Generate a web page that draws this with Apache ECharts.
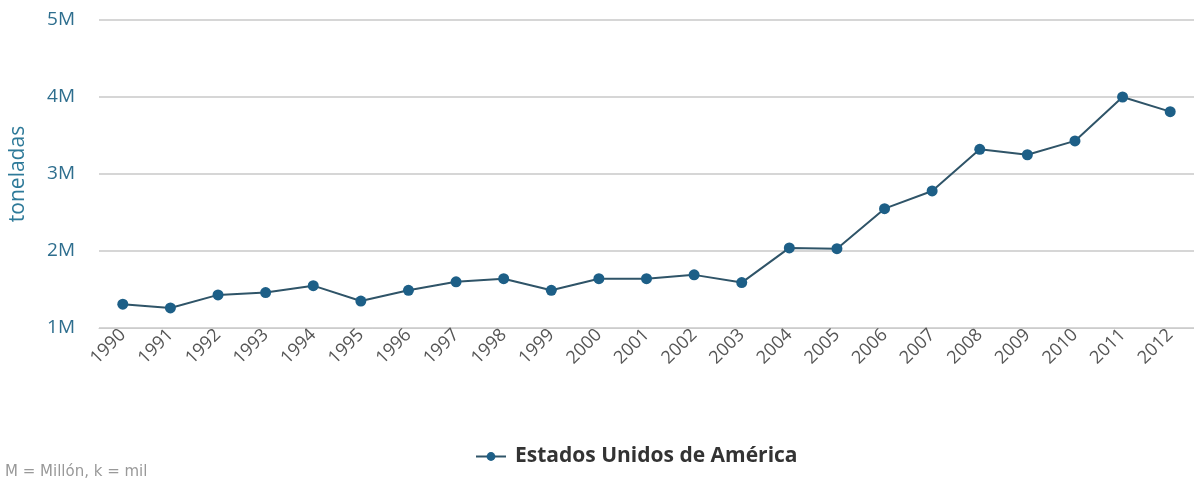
<!DOCTYPE html>
<html>
<head>
<meta charset="utf-8">
<script src="https://cdn.jsdelivr.net/npm/echarts@6/dist/echarts.min.js"></script>
<style>
    html, body { margin: 0; padding: 0; background: #fff; }
    #chart { width: 1194px; height: 483px; }
</style>
</head>
<body>
<div id="chart"></div>
<script>
// años y toneladas
const years = ['1990', '1991', '1992', '1993', '1994', '1995', '1996', '1997', '1998', '1999', '2000', '2001',
    '2002', '2003', '2004', '2005', '2006', '2007', '2008', '2009', '2010', '2011', '2012'];
const usa = [1310000, 1260000, 1430000, 1460000, 1550000, 1350000, 1490000, 1600000, 1640000, 1490000, 1640000, 1640000,
    1690000, 1590000, 2040000, 2030000, 2550000, 2780000, 3320000, 3250000, 3430000, 4000000, 3810000];
const seriesName = 'Estados Unidos de América';

const myChart = echarts.init(document.getElementById('chart'));

const option = {
    animation: false,
    textStyle: { fontFamily: '"Open Sans", "DejaVu Sans", sans-serif' },
    grid: {
        top: 20,
        left: 99,
        right: -6,
        bottom: 155
    },
    legend: {
        bottom: 11,
        left: 470,
        itemWidth: 30,
        itemHeight: 11,
        itemGap: 6,
        textStyle: { fontSize: 21, fontWeight: 'bold', color: '#333', padding: [0, 0, 0, 4] },
        data: [seriesName]
    },
    graphic: [
        {
            type: 'text',
            left: 5,
            top: 465,
            style: { text: 'M = Millón, k = mil', fontSize: 15, fill: '#999', fontFamily: '"DejaVu Sans", sans-serif' }
        }
    ],
    xAxis: {
        type: 'category',
        data: years,
        axisLine: { lineStyle: { color: '#ccc' } },
        axisTick: { length: 10, lineStyle: { color: '#ccc' } },
        axisLabel: { rotate: 45, color: '#555', fontSize: 18, margin: 4, interval: 0 }
    },
    yAxis: {
        type: 'value',
        min: 1000000,
        max: 5000000,
        interval: 1000000,
        name: 'toneladas',
        nameLocation: 'middle',
        nameGap: 70,
        nameTextStyle: { color: '#2e7a99', fontSize: 21 },
        axisLabel: {
            color: '#2e6e8e',
            fontSize: 19,
            margin: 24,
            formatter: function (v) { return (v / 1000000) + 'M'; }
        },
        splitLine: { lineStyle: { color: '#c8c8c8', width: 1.5 } }
    },
    series: [
        {
            name: seriesName,
            type: 'line',
            data: usa,
            symbol: 'circle',
            symbolSize: 11,
            itemStyle: { color: '#1d5f87' },
            lineStyle: { color: '#2f5468', width: 2 }
        }
    ]
};

myChart.setOption(option);
</script>
</body>
</html>
